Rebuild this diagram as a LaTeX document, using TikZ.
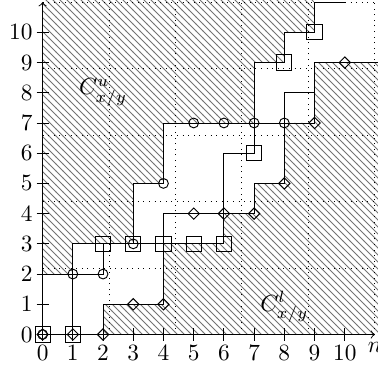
\documentclass[tikz,border=0pt]{standalone}
\usetikzlibrary{patterns,shapes.geometric}
\begin{document}
\begin{tikzpicture}[x=0.455cm,y=0.455cm,
  hatch/.style={pattern=north west lines, pattern color=black!55},
  gridline/.style={dotted},
  mo/.style={circle,draw,inner sep=0pt,minimum size=4.2pt},
  ms/.style={rectangle,draw,inner sep=0pt,minimum size=6.5pt},
  md/.style={diamond,draw,inner sep=0pt,minimum size=5pt},
  xlab/.style={below},
  ylab/.style={left}]
\useasboundingbox (-1.41,-1.08) rectangle (11.1,11.07);
\clip (-1.41,-1.08) rectangle (11.1,11.07);
% hatched regions
\fill[hatch] (0,2) -- (1,2) -- (1,3) -- (3,3) -- (3,5) -- (4,5) -- (4,7) -- (7,7) -- (7,9) -- (8,9) -- (8,10) -- (9,10) -- (9,11.5) -- (0,11.5) -- cycle;
\fill[hatch] (2,0) -- (2,1) -- (4,1) -- (4,3) -- (6,3) -- (6,4) -- (7,4) -- (7,5) -- (8,5) -- (8,7) -- (9,7) -- (9,9) -- (11.5,9) -- (11.5,0) -- cycle;
% grid
\draw[gridline] (0,0) grid (11.5,11.5);
% axes
\draw[->] (0,0) -- (11,0) node[below] (nlab) {$n$};
\draw[->] (0,0) -- (0,11);
\foreach \i in {0,...,10} {
  \draw (\i,-0.2) -- (\i,0.2);
  \draw (-0.2,\i) -- (0.2,\i);
  \node[xlab] (xl\i) at (\i,-0.1) {$\i$};
  \node[ylab] (yl\i) at (-0.06,\i) {$\i$};
}
% markers
\foreach \n/\x/\y in {0/0/0,1/1/2,2/2/2,3/3/3,4/4/5,5/5/7,6/6/7,7/7/7,8/8/7}
  \node[mo] (o\n) at (\x,\y) {};
\foreach \n/\x/\y in {0/0/0,1/1/0,2/2/3,3/3/3,4/4/3,5/5/3,6/6/3,7/7/6,8/8/9,9/9/10}
  \node[ms] (s\n) at (\x,\y) {};
\foreach \n/\x/\y in {0/0/0,1/1/0,2/2/0,3/3/1,4/4/1,5/5/4,6/6/4,7/7/4,8/8/5,9/9/7,10/10/9}
  \node[md] (d\n) at (\x,\y) {};
\coordinate (oe) at (9,8);
\coordinate (se) at (10,11);
\coordinate (de) at (11.5,9);
% staircase paths
\draw (o0.center) |- (o1.center) |- (o2.center) |- (o3.center) |- (o4.center) |- (o5.center) |- (o6.center) |- (o7.center) |- (o8.center) |- (oe);
\draw (s0.center) |- (s1.center) |- (s2.center) |- (s3.center) |- (s4.center) |- (s5.center) |- (s6.center) |- (s7.center) |- (s8.center) |- (s9.center) |- (se);
\draw (d0.center) |- (d1.center) |- (d2.center) |- (d3.center) |- (d4.center) |- (d5.center) |- (d6.center) |- (d7.center) |- (d8.center) |- (d9.center) |- (d10.center) |- (de);
% region labels
\node (cu) at (2,8) {$C^u_{x/y}$};
\node (cl) at (8,0.9) {$C^l_{x/y}$};
\end{tikzpicture}
\end{document}
